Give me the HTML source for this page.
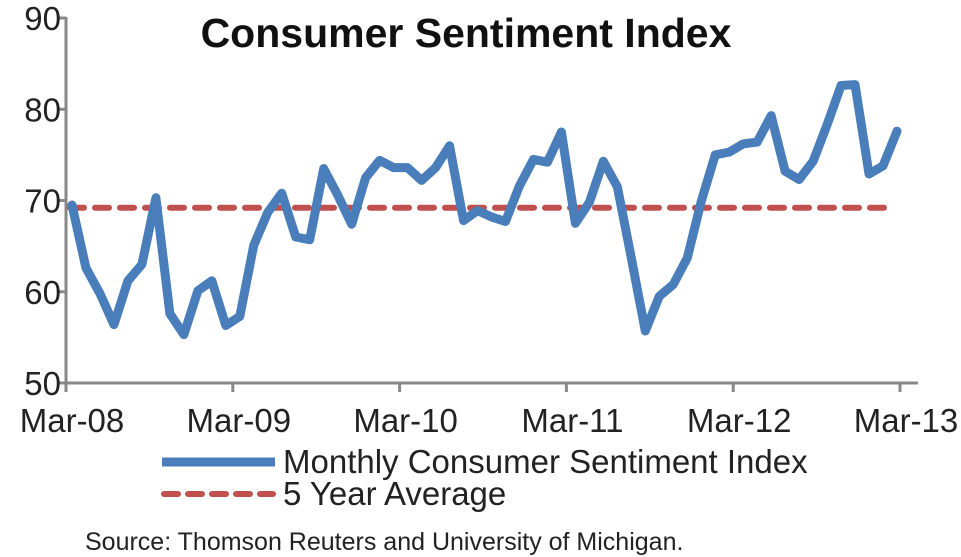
<!DOCTYPE html>
<html><head><meta charset="utf-8"><style>
body{margin:0;background:#fff;}
svg{display:block;font-family:"Liberation Sans",Arial,sans-serif;}
</style></head><body>
<svg id="chart" width="961" height="557" viewBox="0 0 961 557">
<text x="466" y="47" font-size="41" font-weight="bold" text-anchor="middle" fill="#111">Consumer Sentiment Index</text>
<g id="axes"></g>
<g id="series"></g>
<g>
<line x1="162" y1="462" x2="275" y2="462" stroke="#4a7ebb" stroke-width="9"/>
<text x="283" y="473" font-size="33" fill="#222">Monthly Consumer Sentiment Index</text>
<line x1="164" y1="494" x2="273" y2="494" stroke="#c0504d" stroke-width="6" stroke-dasharray="14 10" stroke-linecap="round"/>
<text x="283" y="505" font-size="33" fill="#222">5 Year Average</text>
</g>
<text x="85" y="550" font-size="25" fill="#222">Source: Thomson Reuters and University of Michigan.</text>
</svg>
<script>
const values=[69.5,62.6,59.8,56.4,61.2,63.0,70.3,57.6,55.3,60.1,61.2,56.3,57.3,65.1,68.7,70.8,66.0,65.7,73.5,70.6,67.4,72.5,74.4,73.6,73.6,72.2,73.6,76.0,67.8,68.9,68.2,67.7,71.6,74.5,74.2,77.5,67.5,69.8,74.3,71.5,63.7,55.7,59.5,60.8,63.7,69.9,75.0,75.3,76.2,76.4,79.3,73.2,72.3,74.3,78.3,82.6,82.7,72.9,73.8,77.6];
const average=69.2;
const yTicks=[50,60,70,80,90];
const xLabels=["Mar-08","Mar-09","Mar-10","Mar-11","Mar-12","Mar-13"];
const NS="http://www.w3.org/2000/svg";
const y=v=>383-(v-50)*(365/40);
const x=i=>72+i*(825/59);
const xt=k=>66+k*166.8;
function mk(t,a,p){const e=document.createElementNS(NS,t);for(const k in a)e.setAttribute(k,a[k]);p.appendChild(e);return e;}
const ax=document.getElementById('axes'),se=document.getElementById('series');
let e=mk('line',{x1:66,y1:17,x2:66,y2:384,stroke:'#888','stroke-width':3},ax);


e=mk('line',{x1:65,y1:383,x2:918,y2:383,stroke:'#888','stroke-width':3},ax);


yTicks.forEach(v=>{
 let t=mk('line',{x1:58,y1:y(v),x2:66,y2:y(v),stroke:'#888','stroke-width':3},ax);
 
 
 let l=mk('text',{x:61,y:y(v)+12,'font-size':33,'text-anchor':'end',fill:'#222'},ax);
 l.textContent=v;
 
 
});
xLabels.forEach((s,i)=>{
 const px=xt(i);
 let t=mk('line',{x1:px,y1:383,x2:px,y2:392,stroke:'#888','stroke-width':3},ax);
 
 
 let l=mk('text',{x:px+6,y:432,'font-size':33,'text-anchor':'middle',fill:'#222'},ax);
 l.textContent=s;
 
 
});
let a=mk('line',{x1:x(0)-2,y1:y(average),x2:888,y2:y(average),stroke:'#c0504d','stroke-width':6,'stroke-dasharray':'14 11','stroke-linecap':'round'},se);


let p=mk('polyline',{points:values.map((v,i)=>x(i)+','+y(v)).join(' '),fill:'none',stroke:'#4a7ebb','stroke-width':9,'stroke-linejoin':'round','stroke-linecap':'round'},se);


</script>
</body></html>
